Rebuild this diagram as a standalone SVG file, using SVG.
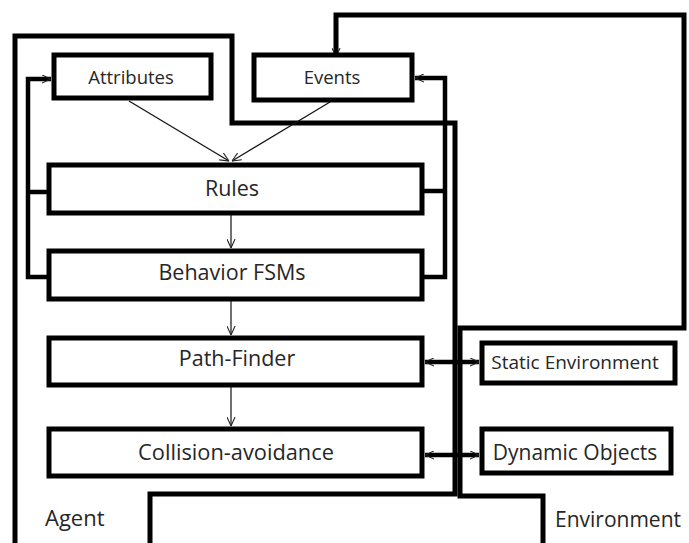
<svg xmlns="http://www.w3.org/2000/svg" width="689" height="543" viewBox="0 0 689 543">
  <defs>
    <marker id="arr" viewBox="0 0 10 10" refX="10" refY="5" markerWidth="9" markerHeight="9" orient="auto-start-reverse" markerUnits="userSpaceOnUse">
      <path d="M0,0.5 L10,5 L0,9.5" fill="none" stroke="#222" stroke-width="1.2"/>
    </marker>
    <style>
      .box { fill: #fff; stroke: #000; stroke-width: 5; }
      .bound { fill: none; stroke: #000; stroke-width: 5; stroke-linejoin: miter; }
      .rail { fill: none; stroke: #000; stroke-width: 4.5; }
      .thin { fill: none; stroke: #111; stroke-width: 1.2; }
      .lbl { font-family: "Open Sans", "Noto Sans", sans-serif; fill: #262626; text-anchor: middle; }
      .side { font-family: "Open Sans", "Noto Sans", sans-serif; fill: #262626; }
    </style>
  </defs>
  <rect width="689" height="543" fill="#fff"/>

  <g id="agent-boundary">
    <polyline class="bound" points="15,543 15,36 232,36 232,123 455,123 455,494 150,494 150,543"/>
    <text class="side" x="45" y="526" font-size="22">Agent</text>
  </g>
  <g id="environment-boundary">
    <polyline class="bound" points="336,57 336,15 684,15 684,328 460,328 460,496 543,496 543,543" marker-start="url(#arr)"/>
    <text class="side" x="555" y="527" font-size="21">Environment</text>
  </g>

  <g id="connectors">
    <line class="thin" x1="129" y1="101" x2="229" y2="161" marker-end="url(#arr)"/>
    <line class="thin" x1="330" y1="102" x2="232" y2="161" marker-end="url(#arr)"/>
    <line class="thin" x1="231" y1="215" x2="231" y2="248" marker-end="url(#arr)"/>
    <line class="thin" x1="231" y1="301" x2="231" y2="335" marker-end="url(#arr)"/>
    <line class="thin" x1="231" y1="387" x2="231" y2="426" marker-end="url(#arr)"/>
    <path class="rail" d="M49,277 H28 V79 H51" marker-end="url(#arr)"/>
    <path class="rail" d="M28,192 H49"/>
    <path class="rail" d="M422,277 H445 V78 H415" marker-end="url(#arr)"/>
    <path class="rail" d="M445,191 H422"/>
    <path class="rail" d="M425,362 H479" marker-start="url(#arr)" marker-end="url(#arr)"/>
    <path class="rail" d="M425,455 H479" marker-start="url(#arr)" marker-end="url(#arr)"/>
  </g>

  <g id="attributes">
    <rect class="box" x="54" y="55" width="157" height="43"/>
    <text class="lbl" x="131" y="84" font-size="18.5">Attributes</text>
  </g>
  <g id="events">
    <rect class="box" x="254" y="55" width="158" height="45"/>
    <text class="lbl" x="332" y="84" font-size="18.5">Events</text>
  </g>
  <g id="rules">
    <rect class="box" x="49" y="165" width="373" height="48"/>
    <text class="lbl" x="232" y="196" font-size="21.5">Rules</text>
  </g>
  <g id="behavior-fsms">
    <rect class="box" x="49" y="251" width="373" height="48"/>
    <text class="lbl" x="232" y="280" font-size="21.5">Behavior FSMs</text>
  </g>
  <g id="path-finder">
    <rect class="box" x="49" y="338" width="373" height="47"/>
    <text class="lbl" x="237" y="366" font-size="21.5">Path-Finder</text>
  </g>
  <g id="collision-avoidance">
    <rect class="box" x="49" y="429" width="373" height="47"/>
    <text class="lbl" x="236" y="460" font-size="21.8">Collision-avoidance</text>
  </g>
  <g id="static-environment">
    <rect class="box" x="482" y="343" width="193" height="40"/>
    <text class="lbl" x="575" y="369" font-size="19">Static Environment</text>
  </g>
  <g id="dynamic-objects">
    <rect class="box" x="482" y="429" width="189" height="44"/>
    <text class="lbl" x="575" y="460" font-size="21">Dynamic Objects</text>
  </g>
</svg>
